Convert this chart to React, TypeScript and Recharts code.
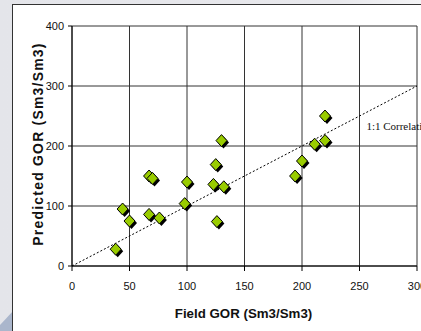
import React from "react";
import {
  ScatterChart,
  Scatter,
  XAxis,
  YAxis,
  CartesianGrid,
  ReferenceLine,
  ReferenceDot,
} from "recharts";

const fieldGor = [38, 44, 50, 67, 76, 67, 70, 98, 100, 123, 125, 126, 130, 132, 194, 200, 211, 220, 220];
const predictedGor = [28, 95, 75, 86, 80, 150, 146, 104, 140, 136, 169, 74, 209, 132, 150, 175, 203, 209, 250];
const xTicks = [0, 50, 100, 150, 200, 250, 300];
const yTicks = [0, 100, 200, 300, 400];
const correlationLine = [
  { x: 0, y: 0 },
  { x: 300, y: 300 },
];
const correlationLabel = { x: 256, y: 226, text: "1:1 Correlation" };
const xTitle = "Field GOR (Sm3/Sm3)";
const yTitle = "Predicted GOR (Sm3/Sm3)";

const data = fieldGor.map((x, i) => ({ x, y: predictedGor[i] }));

const SANS = "'Liberation Sans', Arial, sans-serif";

const Diamond = (props: any) => {
  const { cx, cy } = props;
  if (cx == null || cy == null) return null;
  const w = 5.5;
  const h = 6;
  const pts = (dx: number, dy: number) =>
    `${cx + dx},${cy + dy - h} ${cx + dx + w},${cy + dy} ${cx + dx},${cy + dy + h} ${cx + dx - w},${cy + dy}`;
  return (
    <g>
      <polygon points={pts(2, 2)} fill="#000" />
      <polygon points={pts(0, 0)} fill="#99cc00" stroke="#000" strokeWidth={1} />
    </g>
  );
};

const XTitle = (props: any) => {
  const vb = props.viewBox;
  return (
    <text
      x={vb.x + vb.width / 2 - 1}
      y={vb.y + 52}
      textAnchor="middle"
      fontFamily={SANS}
      fontWeight="bold"
      fontSize={13.3}
      fill="#111"
    >
      {xTitle}
    </text>
  );
};

const YTitle = (props: any) => {
  const vb = props.viewBox;
  const x = 43;
  const y = vb.y + vb.height / 2 - 2;
  return (
    <text
      x={x}
      y={y}
      transform={`rotate(-90, ${x}, ${y})`}
      textAnchor="middle"
      fontFamily={SANS}
      fontWeight="bold"
      fontSize={14}
      letterSpacing={1.2}
      fill="#111"
    >
      {yTitle}
    </text>
  );
};

const CorrLabel = (props: any) => {
  const { cx, cy } = props;
  return (
    <text
      x={cx}
      y={cy}
      fontFamily="'Liberation Serif', 'Times New Roman', serif"
      fontSize={11}
      fill="#111"
    >
      {correlationLabel.text}
    </text>
  );
};

export default function App() {
  return (
    <div
      style={{
        position: "absolute",
        left: 0,
        top: 0,
        width: 421,
        height: 331,
        overflow: "hidden",
        background: "linear-gradient(90deg, #e4e5ea 0%, #e8e8ec 80%, #f4f4f6 100%)",
      }}
    >
      <svg
        width={421}
        height={331}
        style={{ position: "absolute", left: 0, top: 0 }}
      >
        <polygon points="0,325 14,310 14,331 0,331" fill="#aab6cc" />
      </svg>
      <div
        style={{
          position: "absolute",
          left: 12,
          top: 4,
          width: 440,
          height: 360,
          background: "#fff",
          borderLeft: "1.5px solid #333",
          borderTop: "1.5px solid #333",
        }}
      />
      <div style={{ position: "absolute", left: 0, top: 0 }}>
        <ScatterChart
          width={421}
          height={331}
          margin={{ top: 26, right: 4, bottom: 0, left: 0 }}
        >
          <CartesianGrid stroke="#333" strokeWidth={1} />
          <XAxis
            dataKey="x"
            type="number"
            domain={[0, 300]}
            ticks={xTicks}
            interval={0}
            height={65}
            tickSize={5}
            tickMargin={11}
            axisLine={{ stroke: "#000" }}
            tickLine={{ stroke: "#000" }}
            tick={{ fill: "#111", fontSize: 11, fontFamily: SANS }}
            label={<XTitle />}
          />
          <YAxis
            dataKey="y"
            type="number"
            domain={[0, 400]}
            ticks={yTicks}
            interval={0}
            width={72}
            tickSize={4}
            tickMargin={4}
            axisLine={{ stroke: "#000" }}
            tickLine={{ stroke: "#000" }}
            tick={{ fill: "#111", fontSize: 11, fontFamily: SANS }}
            label={<YTitle />}
          />
          <ReferenceLine
            segment={correlationLine}
            stroke="#000"
            strokeWidth={1}
            strokeDasharray="2 2"
            ifOverflow="visible"
          />
          <ReferenceDot
            x={correlationLabel.x}
            y={correlationLabel.y}
            r={0}
            ifOverflow="visible"
            shape={<CorrLabel />}
          />
          <Scatter data={data} isAnimationActive={false} shape={<Diamond />} />
        </ScatterChart>
      </div>
    </div>
  );
}
